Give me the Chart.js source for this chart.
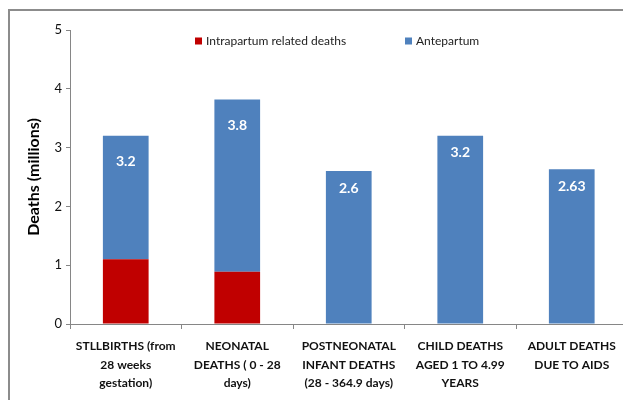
<!DOCTYPE html>
<html>
<head>
<meta charset="utf-8">
<script src="https://cdn.jsdelivr.net/npm/chart.js@4"></script>
<style>
  html, body { margin: 0; padding: 0; background: #fff; overflow: hidden; }
  #wrap { position: relative; width: 623px; height: 400px; overflow: hidden; }
  #frame { position: absolute; left: 8px; top: 9px; width: 800px; height: 600px;
           border-top: 2px solid #8c8c8c; border-left: 2px solid #8c8c8c; }
  #chart { position: absolute; left: 0; top: 0; }
</style>
</head>
<body>
<div id="wrap">
  <div id="frame"></div>
  <canvas id="chart" width="640" height="400"></canvas>
</div>
<script>
const categories = [
  ['STLLBIRTHS (from', '28 weeks', 'gestation)'],
  ['NEONATAL', 'DEATHS ( 0 - 28', 'days)'],
  ['POSTNEONATAL', 'INFANT DEATHS', '(28 - 364.9 days)'],
  ['CHILD DEATHS', 'AGED 1 TO 4.99', 'YEARS'],
  ['ADULT DEATHS', 'DUE TO AIDS']
];
const intrapartum = [1.1, 0.89, 0, 0, 0];
const antepartum = [2.1, 2.93, 2.6, 3.2, 2.63];
const totalLabels = ['3.2', '3.8', '2.6', '3.2', '2.63'];
const yTicks = [0, 1, 2, 3, 4, 5];

const FONT = 'Lato, "Open Sans", sans-serif';
const axisGray = '#868686';

const totalsPlugin = {
  id: 'totals',
  afterDatasetsDraw(chart) {
    const ctx = chart.ctx;
    const top = chart.getDatasetMeta(1).data;
    ctx.save();
    ctx.fillStyle = '#fff';
    ctx.font = 'bold 14px ' + FONT;
    ctx.textAlign = 'center';
    ctx.textBaseline = 'middle';
    top.forEach((bar, i) => {
      const off = intrapartum[i] > 0 ? 26 : 17;
      ctx.fillText(totalLabels[i], bar.x, bar.y + off);
    });
    ctx.restore();
  }
};

const legendPlugin = {
  id: 'customLegend',
  afterDraw(chart) {
    const ctx = chart.ctx;
    const area = chart.chartArea;
    const y = area.top + 11;
    const xs = [area.left + 125, area.left + 335];
    ctx.save();
    ctx.font = '12px ' + FONT;
    ctx.textBaseline = 'middle';
    ctx.textAlign = 'left';
    chart.data.datasets.forEach((ds, i) => {
      ctx.fillStyle = ds.backgroundColor;
      ctx.fillRect(xs[i], y - 3.5, 7, 7);
      ctx.fillStyle = '#222';
      ctx.fillText(ds.label, xs[i] + 11, y);
    });
    ctx.restore();
  }
};

new Chart(document.getElementById('chart'), {
  type: 'bar',
  data: {
    labels: categories,
    datasets: [
      { label: 'Intrapartum related deaths', data: intrapartum, backgroundColor: '#C00000',
        barPercentage: 0.41, categoryPercentage: 1.0 },
      { label: 'Antepartum', data: antepartum, backgroundColor: '#4F81BD',
        barPercentage: 0.41, categoryPercentage: 1.0 }
    ]
  },
  options: {
    responsive: false,
    animation: false,
    layout: { padding: { left: 20, right: 12.5, top: 30, bottom: 0 } },
    plugins: {
      legend: { display: false },
      tooltip: { enabled: false }
    },
    scales: {
      x: {
        stacked: true,
        grid: { display: true, drawOnChartArea: false, drawTicks: true, tickLength: 5, color: axisGray, offset: true },
        border: { color: axisGray, width: 1 },
        ticks: {
          color: '#111', padding: 8, maxRotation: 0, autoSkip: false,
          font: { family: FONT, size: 12, weight: 'bold', lineHeight: 1.55 }
        },
        afterFit(scale) { scale.height = 76; }
      },
      y: {
        stacked: true,
        min: 0, max: 5,
        afterBuildTicks(scale) { scale.ticks = yTicks.map(v => ({ value: v })); },
        grid: { display: true, drawOnChartArea: false, drawTicks: true, tickLength: 4, color: axisGray },
        border: { color: axisGray, width: 1 },
        ticks: { color: '#111', padding: 4, font: { family: FONT, size: 13 } },
        title: {
          display: true, text: 'Deaths (millions)', color: '#000',
          font: { family: FONT, size: 16, weight: 'bold' }
        },
        afterFit(scale) { scale.width = 50; }
      }
    }
  },
  plugins: [totalsPlugin, legendPlugin]
});
</script>
</body>
</html>
